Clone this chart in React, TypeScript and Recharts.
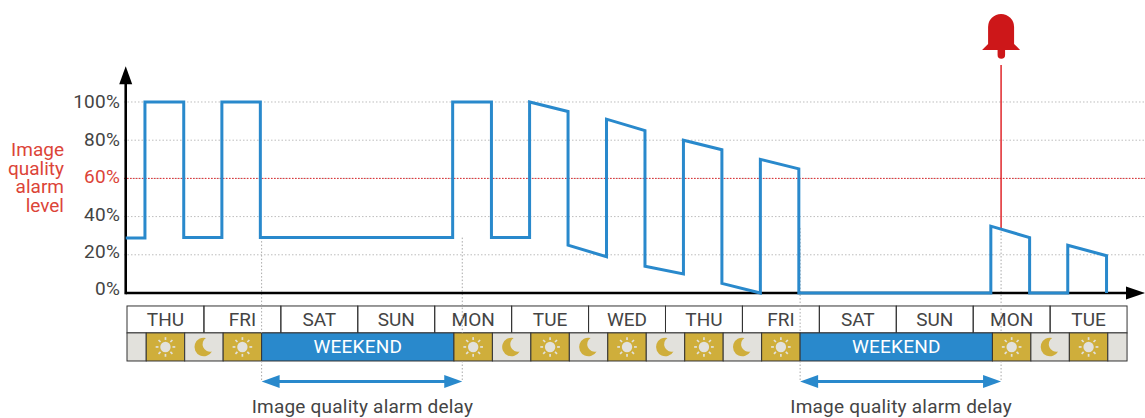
import React from "react";
import { ComposedChart, Line, XAxis, YAxis, CartesianGrid, ReferenceLine, ReferenceArea, ReferenceDot } from "recharts";

const FONT = "Roboto, sans-serif";
const BLUE = "#2989cc";
const GOLD = "#cfae3b";
const PALE = "#e2e1dc";
const TEXT = "#444444";
const RED = "#dc4438";

// hours since Thursday 00:00, and the image quality level at that moment
const hours = [-0.4, 5.6, 5.6, 17.7, 17.7, 29.6, 29.6, 41.6, 41.6, 101.6, 101.6, 113.7, 113.7, 125.6, 125.6, 137.6, 137.6, 149.6, 149.6, 161.6, 161.6, 173.6, 173.6, 185.6, 185.6, 197.6, 197.6, 209.6, 209.6, 269.5, 269.5, 281.6, 281.6, 293.5, 293.5, 305.6, 305.6];
const levels = [28.8, 28.8, 100, 100, 29, 29, 100, 100, 29, 29, 100, 100, 29, 29, 100, 95, 25, 19, 91, 85, 14, 10, 80, 75, 5, 0, 70, 65, 0, 0, 35, 29, 0, 0, 25, 19.5, 0];
const series = hours.map((h, i) => ({ h, level: levels[i] }));

const yTicks = [0, 20, 40, 60, 80, 100];
const alarmLevel = 60;

const days = ["THU", "FRI", "SAT", "SUN", "MON", "TUE", "WED", "THU", "FRI", "SAT", "SUN", "MON", "TUE"];
const periodEnds = [6, 18, 30, 42, 102, 114, 126, 138, 150, 162, 174, 186, 198, 210, 270, 282, 294, 306, 312];
const periodKinds = ["blank", "day", "night", "day", "weekend", "day", "night", "day", "night", "day", "night", "day", "night", "day", "weekend", "day", "night", "day", "blank"];

// alarm delay windows, start and end in hours
const delays = [[42, 104.6], [210, 272.7]];
const delayLevelStart = [29, 34];
const bellHour = 272.7;
const bellLineTop = 119.4;
const bellLevel = 134.6;

// bands under the axis, in level units
const dayRowTop = -6.8;
const dayRowBottom = -20.9;
const stripBottom = -35.6;
const arrowRow = -46.4;

function Sun({ cx, cy }: { cx: number; cy: number }) {
  const rays = [0, 45, 90, 135, 180, 225, 270, 315];
  return (
    <g>
      <circle cx={cx} cy={cy} r={5.2} fill={PALE} />
      {rays.map((a) => {
        const r = (a * Math.PI) / 180;
        return <line key={a} x1={cx + 7 * Math.cos(r)} y1={cy + 7 * Math.sin(r)} x2={cx + 9.8 * Math.cos(r)} y2={cy + 9.8 * Math.sin(r)} stroke={PALE} strokeWidth={1.7} />;
      })}
    </g>
  );
}

function Moon({ cx, cy }: { cx: number; cy: number }) {
  return <path d={`M${cx + 2},${cy - 9} A9.3,9.3 0 1 0 ${cx + 8},${cy + 4.5} A7.5,7.5 0 0 1 ${cx + 2},${cy - 9} Z`} fill={GOLD} />;
}

function PeriodCell(props: any) {
  const { x, y, width, height, kind } = props;
  const cx = x + width / 2;
  const cy = y + height / 2;
  const fill = kind === "weekend" ? BLUE : kind === "day" ? GOLD : PALE;
  return (
    <g>
      <rect x={x} y={y} width={width} height={height} fill={fill} stroke="#333" strokeWidth={1} />
      {kind === "day" && <Sun cx={cx} cy={cy} />}
      {kind === "night" && <Moon cx={cx} cy={cy} />}
      {kind === "weekend" && (
        <text x={cx} y={cy + 6.5} textAnchor="middle" fontFamily={FONT} fontSize={19} letterSpacing={0.2} fill="#fff">WEEKEND</text>
      )}
    </g>
  );
}

function DayCell(props: any) {
  const { x, y, width, height, name } = props;
  return (
    <g>
      <rect x={x} y={y} width={width} height={height} fill="none" stroke="#333" strokeWidth={1} />
      <text x={x + width / 2} y={y + height / 2 + 6.5} textAnchor="middle" fontFamily={FONT} fontSize={19} fill={TEXT}>{name}</text>
    </g>
  );
}

function HAxis({ x1, y1, x2 }: any) {
  return (
    <g>
      <line x1={x1} y1={y1} x2={x2 - 15} y2={y1} stroke="#000" strokeWidth={2.6} />
      <polygon points={`${x2 - 19},${y1 - 6.5} ${x2},${y1} ${x2 - 19},${y1 + 6.5}`} fill="#000" />
    </g>
  );
}

function VAxis({ x1, y1, y2 }: any) {
  const top = Math.min(y1, y2);
  const bottom = Math.max(y1, y2);
  return (
    <g>
      <line x1={x1} y1={bottom + 1.3} x2={x1} y2={top + 14} stroke="#000" strokeWidth={2.6} />
      <polygon points={`${x1 - 6.5},${top + 18} ${x1},${top} ${x1 + 6.5},${top + 18}`} fill="#000" />
    </g>
  );
}

function DelayArrow({ x1, y1, x2 }: any) {
  return (
    <g>
      <line x1={x1 + 14} y1={y1} x2={x2 - 14} y2={y1} stroke={BLUE} strokeWidth={3} />
      <polygon points={`${x1},${y1} ${x1 + 18},${y1 - 6.5} ${x1 + 18},${y1 + 6.5}`} fill={BLUE} />
      <polygon points={`${x2},${y1} ${x2 - 18},${y1 - 6.5} ${x2 - 18},${y1 + 6.5}`} fill={BLUE} />
      <text x={(x1 + x2) / 2 + 0.5} y={y1 + 31.5} textAnchor="middle" fontFamily={FONT} fontSize={19} letterSpacing={0.22} fill={TEXT}>Image quality alarm delay</text>
    </g>
  );
}

function Bell({ cx, cy }: any) {
  return (
    <path
      transform={`translate(${cx},${cy})`}
      d="M-13,-9 A13,13 0 0 1 13,-9 L13,8 L19,14 L4,14 L4,19 A3.5,3.5 0 0 1 -3.5,19 L-3.5,14 L-19,14 L-13,8 Z"
      fill="#cd1719"
    />
  );
}

// the labels sit a little tighter than the grid lines in the original
function LevelTick({ x, y, payload }: any) {
  const drift = (100 - payload.value) * 0.04;
  return (
    <text x={x} y={y + 6.5 - drift} textAnchor="end" fontFamily={FONT} fontSize={19} letterSpacing={0.2} fill={payload.value === alarmLevel ? RED : TEXT}>
      {payload.value}%
    </text>
  );
}

export default function App() {
  return (
    <div style={{ position: "absolute", left: 0, top: 0, width: 1145, height: 418, background: "#fff" }}>
      <ComposedChart width={1145} height={418} data={series} margin={{ top: 0, right: 0, bottom: 0, left: 0 }}>
        <CartesianGrid vertical={false} horizontalValues={yTicks} stroke="#bdbdbd" strokeDasharray="1.5 2" />
        <XAxis hide type="number" dataKey="h" domain={[-0.936, 317.6]} allowDataOverflow />
        <YAxis type="number" width={124} domain={[-65.45, 153.4]} ticks={yTicks} axisLine={false} tickLine={false} tickSize={4} tickMargin={0} tick={<LevelTick />} allowDataOverflow />

        <ReferenceLine y={alarmLevel} stroke="#e0262b" strokeDasharray="1.5 1.5" />

        {days.map((name, i) => (
          <ReferenceArea key={i} x1={i * 24} x2={(i + 1) * 24} y1={dayRowBottom} y2={dayRowTop} shape={<DayCell name={name} />} />
        ))}

        {delays.map(([start, end], i) => (
          <React.Fragment key={i}>
            {[start, end].map((h) => (
              <React.Fragment key={h}>
                <ReferenceLine segment={[{ x: h, y: delayLevelStart[i] }, { x: h, y: dayRowBottom }]} stroke="#a8a8a8" strokeDasharray="1.5 2" />
                <ReferenceLine segment={[{ x: h, y: stripBottom }, { x: h, y: arrowRow }]} stroke="#a8a8a8" strokeDasharray="1.5 2" />
              </React.Fragment>
            ))}
          </React.Fragment>
        ))}

        {periodKinds.map((kind, i) => (
          <ReferenceArea key={i} x1={i === 0 ? 0 : periodEnds[i - 1]} x2={periodEnds[i]} y1={stripBottom} y2={dayRowBottom} shape={<PeriodCell kind={kind} />} />
        ))}

        {delays.map(([start, end], i) => (
          <ReferenceLine key={i} segment={[{ x: start, y: arrowRow }, { x: end, y: arrowRow }]} shape={<DelayArrow />} />
        ))}

        <ReferenceLine segment={[{ x: bellHour, y: delayLevelStart[1] }, { x: bellHour, y: bellLineTop }]} stroke="#e0262b" strokeWidth={1.5} />
        <ReferenceDot x={bellHour} y={bellLevel} shape={<Bell />} />

        <ReferenceLine segment={[{ x: -0.4, y: 0 }, { x: 317.6, y: 0 }]} shape={<HAxis />} />
        <ReferenceLine segment={[{ x: -0.4, y: 0 }, { x: -0.4, y: 118.7 }]} shape={<VAxis />} />

        <Line dataKey="level" type="linear" stroke={BLUE} strokeWidth={3} strokeLinejoin="miter" dot={false} activeDot={false} isAnimationActive={false} />
      </ComposedChart>
      <div style={{ position: "absolute", right: 1145 - 64, top: 141, width: 70, textAlign: "right", fontFamily: FONT, fontSize: 19, lineHeight: "18.5px", color: RED }}>
        Image quality alarm level
      </div>
    </div>
  );
}
